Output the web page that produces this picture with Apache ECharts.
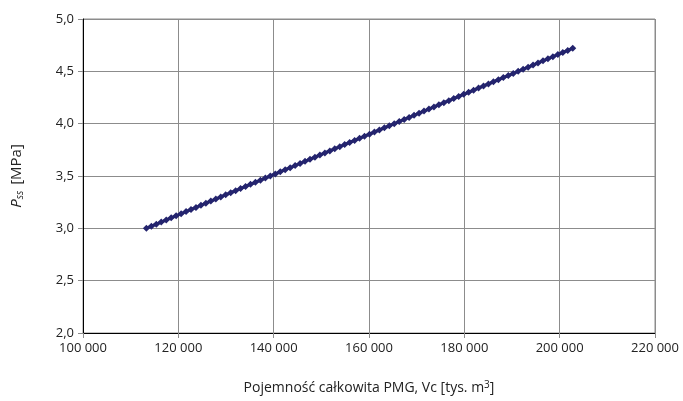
<!DOCTYPE html>
<html>
<head>
<meta charset="utf-8">
<script src="https://cdn.jsdelivr.net/npm/echarts@6/dist/echarts.min.js"></script>
<style>
  html, body { margin: 0; padding: 0; background: #fff; }
  #chart { width: 683px; height: 401px; }
</style>
</head>
<body>
<div id="chart"></div>
<script>
  // pojemnosc calkowita PMG [tys. m3]
  var vc = [
    113300, 114340, 115380, 116420, 117460, 118500, 119540, 120580, 121620, 122660,
    123700, 124740, 125780, 126820, 127860, 128900, 129940, 130980, 132020, 133060,
    134100, 135140, 136180, 137220, 138260, 139300, 140340, 141380, 142420, 143460,
    144500, 145540, 146580, 147620, 148660, 149700, 150740, 151780, 152820, 153860,
    154900, 155940, 156980, 158020, 159060, 160100, 161140, 162180, 163220, 164260,
    165300, 166340, 167380, 168420, 169460, 170500, 171540, 172580, 173620, 174660,
    175700, 176740, 177780, 178820, 179860, 180900, 181940, 182980, 184020, 185060,
    186100, 187140, 188180, 189220, 190260, 191300, 192340, 193380, 194420, 195460,
    196500, 197540, 198580, 199620, 200660, 201700, 202740
  ];
  // cisnienie Pss [MPa]
  var pss = [
    3.00, 3.02, 3.04, 3.06, 3.08, 3.10, 3.12, 3.14, 3.16, 3.18,
    3.20, 3.22, 3.24, 3.26, 3.28, 3.30, 3.32, 3.34, 3.36, 3.38,
    3.40, 3.42, 3.44, 3.46, 3.48, 3.50, 3.52, 3.54, 3.56, 3.58,
    3.60, 3.62, 3.64, 3.66, 3.68, 3.70, 3.72, 3.74, 3.76, 3.78,
    3.80, 3.82, 3.84, 3.86, 3.88, 3.90, 3.92, 3.94, 3.96, 3.98,
    4.00, 4.02, 4.04, 4.06, 4.08, 4.10, 4.12, 4.14, 4.16, 4.18,
    4.20, 4.22, 4.24, 4.26, 4.28, 4.30, 4.32, 4.34, 4.36, 4.38,
    4.40, 4.42, 4.44, 4.46, 4.48, 4.50, 4.52, 4.54, 4.56, 4.58,
    4.60, 4.62, 4.64, 4.66, 4.68, 4.70, 4.72
  ];

  var points = vc.map(function (v, i) { return [v, pss[i]]; });

  var chart = echarts.init(document.getElementById('chart'));
  chart.setOption({
    animation: false,
    textStyle: { fontFamily: 'Open Sans', color: '#222' },
    grid: {
      left: 83,
      right: 28,
      top: 19,
      bottom: 68,
      show: true,
      borderColor: '#8c8c8c',
      borderWidth: 1
    },
    xAxis: {
      type: 'value',
      min: 100000,
      max: 220000,
      interval: 20000,
      name: 'Pojemność całkowita PMG, Vc [tys. m{sup|3}]',
      nameLocation: 'middle',
      nameGap: 47,
      nameTextStyle: {
        fontSize: 14,
        color: '#222',
        rich: {
          sup: { fontSize: 10, verticalAlign: 'top', padding: [0, 0, 6, 0] }
        }
      },
      axisLine: { show: true, onZero: false, lineStyle: { color: '#000', width: 1 } },
      axisTick: { show: true, length: 5, lineStyle: { color: '#8c8c8c' } },
      axisLabel: {
        fontSize: 13,
        margin: 9,
        color: '#222',
        formatter: function (v) {
          return String(v).replace(/\B(?=(\d{3})+(?!\d))/g, ' ');
        }
      },
      splitLine: { show: true, lineStyle: { color: '#8c8c8c', width: 1 } }
    },
    yAxis: {
      type: 'value',
      min: 2.0,
      max: 5.0,
      interval: 0.5,
      name: '{p|P}{s|ss} [MPa]',
      nameLocation: 'middle',
      nameGap: 58,
      nameRotate: 90,
      nameTextStyle: {
        fontSize: 15,
        color: '#222',
        rich: {
          p: { fontSize: 15, fontStyle: 'italic', color: '#222' },
          s: { fontSize: 10, fontStyle: 'italic', color: '#222', verticalAlign: 'bottom', padding: [6, 2, 0, 0] }
        }
      },
      axisLine: { show: true, onZero: false, lineStyle: { color: '#000', width: 1 } },
      axisTick: { show: true, length: 5, lineStyle: { color: '#8c8c8c' } },
      axisLabel: {
        fontSize: 13,
        margin: 9,
        color: '#222',
        formatter: function (v) { return v.toFixed(1).replace('.', ','); }
      },
      splitLine: { show: true, lineStyle: { color: '#8c8c8c', width: 1 } }
    },
    series: [{
      type: 'line',
      data: points,
      symbol: 'diamond',
      symbolSize: 7,
      showAllSymbol: true,
      itemStyle: { color: '#24246e' },
      lineStyle: { color: '#24246e', width: 3 }
    }]
  });
</script>
</body>
</html>
